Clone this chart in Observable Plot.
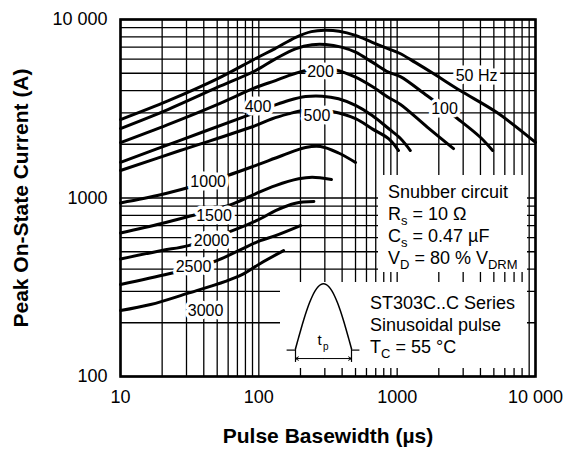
<!DOCTYPE html>
<html><head><meta charset="utf-8">
<script src="https://cdn.jsdelivr.net/npm/d3@7"></script>
<script src="https://cdn.jsdelivr.net/npm/@observablehq/plot@0.6"></script>
<style>
body{margin:0;background:#fff;}
#wrap{position:relative;width:574px;height:452px;font-family:"Liberation Sans",Arial,Helvetica,sans-serif;color:#000;}
#wrap svg{display:block;}
.box{position:absolute;background:#fff;}
.ln{position:absolute;white-space:nowrap;font-size:18px;line-height:1;}
.ln sub{font-size:13px;vertical-align:-5px;line-height:0;}
#inset{position:absolute;left:282px;top:278px;}
</style></head><body><div id="wrap"></div>
<script>
// ---- data (pulse basewidth in µs, peak current in A) ----
const f50   = [[10,2750],[22,3500],[50,4650],[95,6050],[130,6850],[185,7950],[240,8550],[300,8700],[380,8600],[500,8150],[660,7450],[865,6850],[1050,6450],[1350,5750],[1850,4950],[2850,4000],[5300,3000],[10000,2050]];
const f100  = [[10,2450],[22,3130],[50,4160],[95,5180],[132,6020],[184,6850],[243,7220],[304,7240],[395,7000],[500,6560],[660,5770],[865,5070],[1055,4790],[1640,3750],[2740,2780],[3990,2190],[4900,1845]];
const f200  = [[10,2045],[22,2580],[50,3340],[95,4160],[132,4550],[164,4850],[218,5180],[279,5280],[358,5210],[500,4750],[660,4210],[866,3655],[1057,3340],[1650,2495],[2555,1890]];
const f400  = [[10,1585],[27,2105],[77,2840],[125,3270],[164,3516],[218,3700],[287,3720],[377,3595],[500,3300],[660,2900],[866,2450],[1057,2155],[1245,1845]];
const f500  = [[10,1425],[27,1845],[91,2515],[125,2780],[164,2960],[206,3090],[261,3130],[339,3050],[500,2780],[660,2440],[870,2145],[1023,1845]];
const f1000 = [[10,938],[19.5,1042],[31,1145],[59.4,1337],[94.6,1520],[147.6,1730],[217.5,1918],[279,1943],[377,1787],[500,1581]];
const f1500 = [[10,637],[19.5,717],[31,788],[65.6,931],[94.6,1056],[132,1174],[194,1281],[243,1308],[335,1269]];
const f2000 = [[10,455],[19.5,507],[31,541],[64.5,656],[102.6,765],[132,850],[184,935],[250,956]];
const f2500 = [[10,328],[22.4,376],[47.8,441],[71.3,507],[102.6,577],[132,615],[200,700]];
const f3000 = [[10,234],[16.5,253],[30.5,292],[57.4,341],[76.2,373],[102.6,430],[151,507]];

const curveNames = ["50 Hz","100","200","400","500","1000","1500","2000","2500","3000"];
const curveData  = [f50,f100,f200,f400,f500,f1000,f1500,f2000,f2500,f3000];

const labelText = ["50 Hz","100","200","400","500","1000","1500","2000","2500","3000"];
const labelX    = [3750,2200,279,98.6,263,43,47.4,45.5,33.7,41.2];
const labelY    = [4850,3150,5080,3234,2897,1237,798,578,411,234];

const xGrid = [10,20,30,40,50,60,70,80,90,100,200,300,400,500,600,700,800,900,1000,2000,3000,4000,5000,6000,7000,8000,9000,10000];
const yGrid = [100,200,300,400,500,600,700,800,900,1000,2000,3000,4000,5000,6000,7000,8000,9000,10000];
const xTickValues = [10,100,1000,10000];
const xTickLabels = ["10","100","1000","10 000"];
const yTickValues = [100,1000,10000];
const yTickLabels = ["100","1000","10 000"];

const xTitle = "Pulse Basewidth (µs)";
const yTitle = "Peak On-State Current (A)";

// inset pulse icon (schematic)
const pulseT = [0,0.05,0.1,0.15,0.2,0.25,0.3,0.35,0.4,0.45,0.5,0.55,0.6,0.65,0.7,0.75,0.8,0.85,0.9,0.95,1];
const pulseV = [0,0.156,0.309,0.454,0.588,0.707,0.809,0.891,0.951,0.988,1,0.988,0.951,0.891,0.809,0.707,0.588,0.454,0.309,0.156,0];

// ---- build ----
const rows = [];
curveData.forEach((arr, k) => arr.forEach(([x, y]) => rows.push({curve: curveNames[k], x, y})));
const labels = labelText.map((t, i) => ({t, x: labelX[i], y: labelY[i]}));
const fmtX = d => xTickLabels[xTickValues.indexOf(d)];
const fmtY = d => yTickLabels[yTickValues.indexOf(d)];

const chart = Plot.plot({
  width: 574, height: 452,
  marginLeft: 120, marginRight: 39, marginTop: 19, marginBottom: 76,
  x: {type: "log", domain: [10, 10000]},
  y: {type: "log", domain: [100, 10000]},
  style: {fontFamily: '"Liberation Sans", Arial, Helvetica, sans-serif', fontSize: "18px", color: "black", background: "white"},
  marks: [
    Plot.gridX(xGrid, {stroke: "black", strokeOpacity: 1, strokeWidth: 1.3}),
    Plot.gridY(yGrid, {stroke: "black", strokeOpacity: 1, strokeWidth: 1.3}),
    Plot.line(rows, {x: "x", y: "y", z: "curve", stroke: "black", strokeWidth: 3, curve: "catmull-rom"}),
    Plot.text(labels, {x: "x", y: "y", text: "t", fontSize: 16, fill: "black", stroke: "white", strokeWidth: 7, strokeLinejoin: "round"}),
    Plot.frame({stroke: "black", strokeWidth: 2.6}),
    Plot.axisX(xTickValues, {tickSize: 0, tickPadding: 14, tickFormat: fmtX, label: null, fontSize: 18}),
    Plot.axisY(yTickValues, {tickSize: 0, tickPadding: 13, tickFormat: fmtY, label: null, fontSize: 18}),
    Plot.text([xTitle], {frameAnchor: "bottom", textAnchor: "middle", dy: 66, fontWeight: "bold", fontSize: 21}),
    Plot.text([yTitle], {frameAnchor: "left", textAnchor: "middle", rotate: -90, dx: -99, fontWeight: "bold", fontSize: 21})
  ]
});

const wrap = document.getElementById("wrap");
wrap.appendChild(chart);

function addBox(l, t, w, h) {
  const d = document.createElement("div");
  d.className = "box";
  Object.assign(d.style, {left: l + "px", top: t + "px", width: w + "px", height: h + "px"});
  wrap.appendChild(d);
}
function addLine(html, l, baseline) {
  const d = document.createElement("div");
  d.className = "ln";
  d.innerHTML = html;
  Object.assign(d.style, {left: l + "px", top: (baseline - 15.2) + "px"});
  wrap.appendChild(d);
}
addBox(378, 175, 149, 97);
addBox(280, 282, 247, 86);
addLine("Snubber circuit", 388, 198.3);
addLine("R<sub>s</sub> = 10 Ω", 388, 220.3);
addLine("C<sub>s</sub> = 0.47 µF", 388, 242.3);
addLine("V<sub>D</sub> = 80 % V<sub>DRM</sub>", 388, 264.3);
addLine("ST303C..C Series", 370, 309.3);
addLine("Sinusoidal pulse", 370, 331.3);
addLine("T<sub>C</sub> = 55 °C", 370, 353.3);

const pulse = pulseT.map((t, i) => ({t, v: pulseV[i]}));
const inset = Plot.plot({
  width: 82, height: 88, margin: 0,
  x: {domain: [-0.2321, 1.2321], axis: null},
  y: {domain: [-0.2723, 1.0815], axis: null},
  style: {background: "transparent", fontFamily: '"Liberation Sans", Arial, Helvetica, sans-serif'},
  marks: [
    Plot.line(pulse, {x: "t", y: "v", stroke: "black", strokeWidth: 1.5, curve: "catmull-rom"}),
    Plot.ruleX([0, 1], {y1: 0, y2: -0.21, stroke: "black", strokeWidth: 1.2}),
    Plot.ruleY([-0.02], {x1: -0.15, x2: 0, stroke: "black", strokeWidth: 1.2}),
    Plot.ruleY([-0.02], {x1: 1, x2: 1.15, stroke: "black", strokeWidth: 1.2}),
    Plot.arrow([{a: 0.5, b: 0}, {a: 0.5, b: 1}], {x1: "a", x2: "b", y1: -0.15, y2: -0.15, headLength: 5, strokeWidth: 1, stroke: "black"}),
    Plot.text(["t"], {x: 0.43, y: 0.13, fontSize: 15, fill: "black"}),
    Plot.text(["p"], {x: 0.54, y: 0.03, fontSize: 10, fill: "black"})
  ]
});
inset.id = "inset";
wrap.appendChild(inset);
</script></body></html>
